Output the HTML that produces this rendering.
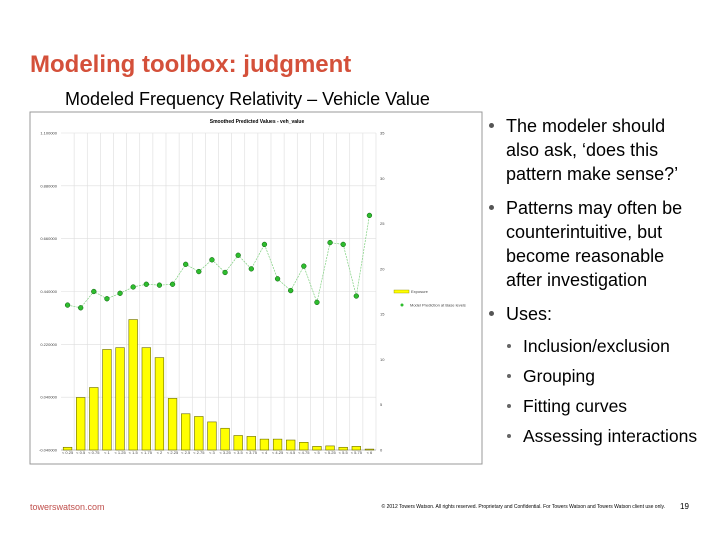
<!DOCTYPE html>
<html><head><meta charset="utf-8"><style>
body{margin:0;width:720px;height:540px;background:#fff;position:relative;overflow:hidden;font-family:"Liberation Sans",sans-serif}
.a{position:absolute;white-space:nowrap}
.b{position:absolute;font-size:18px;line-height:24px;color:#000}
.dot{position:absolute;width:5px;height:5px;border-radius:50%;background:#555}
.sd{position:absolute;width:4px;height:4px;border-radius:50%;background:#666}
</style></head><body>
<div class="a" style="left:30px;top:51px;font-size:24px;font-weight:bold;color:#d4503a">Modeling toolbox: judgment</div>
<div class="a" style="left:65px;top:89px;font-size:18px">Modeled Frequency Relativity – Vehicle Value</div>
<svg class="a" style="left:0;top:0" width="720" height="540" id="svg"></svg>
<div>
<div class="dot" style="left:489px;top:123px"></div>
<div class="b" style="left:506px;top:114px;width:196px">The modeler should also ask, ‘does this pattern make sense?’</div>
<div class="dot" style="left:489px;top:205px"></div>
<div class="b" style="left:506px;top:196px;width:190px">Patterns may often be counterintuitive, but become reasonable after investigation</div>
<div class="dot" style="left:489px;top:311px"></div>
<div class="b" style="left:506px;top:302px">Uses:</div>
<div class="sd" style="left:507px;top:344px"></div>
<div class="b" style="left:523px;top:334px;font-size:17.5px">Inclusion/exclusion</div>
<div class="sd" style="left:507px;top:374px"></div>
<div class="b" style="left:523px;top:364px;font-size:17.5px">Grouping</div>
<div class="sd" style="left:507px;top:404px"></div>
<div class="b" style="left:523px;top:394px;font-size:17.5px">Fitting curves</div>
<div class="sd" style="left:507px;top:434px"></div>
<div class="b" style="left:523px;top:424px;font-size:17.5px">Assessing interactions</div>
</div>
<div class="a" style="left:30px;top:502px;font-size:9px;color:#c0504d">towerswatson.com</div>
<div class="a" style="left:245px;top:504px;font-size:5px;color:#000;width:420px;text-align:right">© 2012 Towers Watson. All rights reserved. Proprietary and Confidential. For Towers Watson and Towers Watson client use only.</div>
<div class="a" style="left:680px;top:502px;font-size:8px">19</div>
<script>
const categories=["< 0.25","< 0.5","< 0.75","< 1","< 1.25","< 1.5","< 1.75","< 2","< 2.25","< 2.5","< 2.75","< 3","< 3.25","< 3.5","< 3.75","< 4","< 4.25","< 4.5","< 4.75","< 5","< 5.25","< 5.5","< 5.75","< 6"];
const exposure=[0.3,5.8,6.9,11.1,11.3,14.4,11.3,10.2,5.7,4.0,3.7,3.1,2.4,1.6,1.5,1.2,1.2,1.1,0.85,0.4,0.45,0.3,0.4,0.1];
const prediction=[16.0,15.7,17.5,16.7,17.3,18.0,18.3,18.2,18.3,20.5,19.7,21.0,19.6,21.5,20.0,22.7,18.9,17.6,20.3,16.3,22.9,22.7,17.0,25.9];
const rightTicks=[0,5,10,15,20,25,30,35];
const leftTicks=["-0.040000","0.040000","0.220000","0.440000","0.660000","0.880000","1.100000"];
const NS="http://www.w3.org/2000/svg",svg=document.getElementById('svg');
function el(t,a,p){const e=document.createElementNS(NS,t);for(const k in a)e.setAttribute(k,a[k]);(p||svg).appendChild(e);return e;}
const L=61,R=376,T=133,B=450;
const y=v=>B-(v/35)*(B-T);
const bw=(R-L)/categories.length;
const x=i=>L+bw*(i+0.5);
const frame=el('rect',{x:30,y:112,width:452,height:352,fill:'#fff',stroke:'#999','stroke-width':1});

const ttl=el('text',{x:257,y:123,'font-size':5,'text-anchor':'middle','font-family':'Liberation Sans','font-weight':'bold'});ttl.textContent='Smoothed Predicted Values - veh_value';

leftTicks.forEach((t,i)=>{const yy=B-i*(B-T)/(leftTicks.length-1);
 el('line',{x1:L,x2:R,y1:yy,y2:yy,stroke:'#ddd','stroke-width':0.6});
 const tx=el('text',{x:L-4,y:yy+1.5,'font-size':4,'text-anchor':'end',fill:'#444'});tx.textContent=t;
 });
categories.forEach((c,i)=>{const xx=L+bw*(i+1);
 el('line',{x1:xx,x2:xx,y1:T,y2:B,stroke:'#ddd','stroke-width':0.6});
 const tx=el('text',{x:x(i),y:B+4,'font-size':4,'text-anchor':'middle',fill:'#444'});tx.textContent=c;
 });
rightTicks.forEach(t=>{const tx=el('text',{x:R+4,y:y(t)+1.5,'font-size':4,fill:'#444'});tx.textContent=t;
 });
el('line',{x1:L,x2:R,y1:B,y2:B,stroke:'#888','stroke-width':0.6});
exposure.forEach((v,i)=>{const r=el('rect',{x:x(i)-bw*0.33,y:y(v),width:bw*0.66,height:B-y(v),fill:'#ffff00',stroke:'#6a6a00','stroke-width':0.6});
 });
const pl=el('polyline',{points:prediction.map((v,i)=>x(i)+','+y(v)).join(' '),fill:'none',stroke:'#7fd07f','stroke-width':0.7,'stroke-dasharray':'2,1'});

prediction.forEach((v,i)=>{const c=el('circle',{cx:x(i),cy:y(v),r:2.4,fill:'#2ebd2e',stroke:'#0a5a0a','stroke-width':0.5});
 });
const lg=el('g',{});
el('rect',{x:394,y:290,width:15,height:3,fill:'#ffff00',stroke:'#8a8a00','stroke-width':0.4},lg);
const l1=el('text',{x:411,y:293,'font-size':4,fill:'#444'},lg);l1.textContent='Exposure';
el('circle',{cx:402,cy:305,r:1.5,fill:'#2ebd2e'},lg);
const l2=el('text',{x:410,y:306.5,'font-size':4,fill:'#444'},lg);l2.textContent='Model Prediction at Base levels';
</script>
</body></html>
